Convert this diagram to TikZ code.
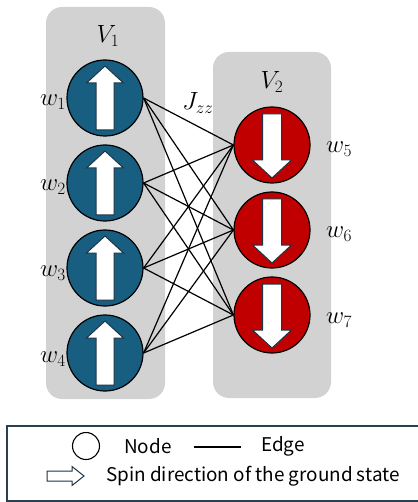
\documentclass[tikz,border=0pt]{standalone}
\usepackage{fontspec}
\newfontfamily\legendfont{Noto Sans CJK JP}
\definecolor{panelgray}{HTML}{D2D2D2}
\definecolor{spinblue}{HTML}{175E80}
\definecolor{spinred}{HTML}{C00000}
\definecolor{arrowline}{HTML}{1B3447}
\definecolor{boxline}{HTML}{2A3F4F}
\begin{document}
\begin{tikzpicture}[x=1pt,y=-1pt,
  panel/.style={fill=panelgray,draw=none,rounded corners=16pt},
  spinnode/.style={circle,draw=black,line width=1.2pt,minimum size=76pt,inner sep=0pt},
  upnode/.style={spinnode,fill=spinblue},
  downnode/.style={spinnode,fill=spinred},
  spinarrow/.style={fill=white,draw=arrowline,line width=1pt,line join=miter},
  edge/.style={draw=black,line width=1.2pt},
  mathlabel/.style={font=\fontsize{26}{29}\selectfont,inner sep=0pt},
  legendtext/.style={font=\legendfont\fontsize{18.9}{21}\selectfont,inner sep=0pt,anchor=west}
]
\useasboundingbox (0,0) rectangle (417,502);
% panels
\fill[panel] (46,7) rectangle (165,399);
\fill[panel] (213,52) rectangle (331,398);
% nodes
\node[upnode] (n1) at (105,98) {};
\node[upnode] (n2) at (105,183) {};
\node[upnode] (n3) at (105,268) {};
\node[upnode] (n4) at (105,353) {};
\node[downnode] (n5) at (272,145) {};
\node[downnode] (n6) at (272,230) {};
\node[downnode] (n7) at (272,315) {};
% edges
\foreach \i in {1,2,3,4}{
  \foreach \j in {5,6,7}{
    \draw[edge] (n\i.east) -- (n\j.west);
  }
}
% arrows
\foreach \i in {1,2,3,4}{
  \draw[spinarrow,shift={(n\i.center)}] (-9,32) -- (9,32) -- (9,-15) -- (18.5,-15) -- (0,-32) -- (-18.5,-15) -- (-9,-15) -- cycle;
}
\foreach \i in {5,6,7}{
  \draw[spinarrow,shift={(n\i.center)}] (-9.5,-31) -- (9.5,-31) -- (9.5,15) -- (19.5,15) -- (0,33) -- (-19.5,15) -- (-9.5,15) -- cycle;
}
% labels
\node[mathlabel] (lv1) at (108,36) {$V_1$};
\node[mathlabel] (lv2) at (272,82) {$V_2$};
\node[mathlabel] (lj) at (198,103) {$J_{zz}$};
\node[mathlabel] (lw1) at (53,102) {$w_1$};
\node[mathlabel] (lw2) at (53,187) {$w_2$};
\node[mathlabel] (lw3) at (53,273) {$w_3$};
\node[mathlabel] (lw4) at (53,359) {$w_4$};
\node[mathlabel] (lw5) at (339,149) {$w_5$};
\node[mathlabel] (lw6) at (339,234) {$w_6$};
\node[mathlabel] (lw7) at (339,320) {$w_7$};
% legend
\draw[boxline,line width=1.3pt] (420,426) -- (7,426) -- (7,501) -- (420,501);
\node[circle,draw=black,line width=1.1pt,minimum size=27pt,inner sep=0pt] (lc) at (86,446) {};
\node[legendtext] (ln) at (124,446) {Node};
\coordinate (le1) at (194,447);
\coordinate (le2) at (241,447);
\draw[edge] (le1) -- (le2);
\node[legendtext] (ledge) at (261,446) {Edge};
\draw[draw=arrowline,fill=white,line width=1pt,shift={(47,476)}] (0,-5) -- (25,-5) -- (25,-9.5) -- (37,0) -- (25,9.5) -- (25,5) -- (0,5) -- cycle;
\node[legendtext] (ls) at (106,476) {Spin direction of the ground state};
\end{tikzpicture}
\end{document}
